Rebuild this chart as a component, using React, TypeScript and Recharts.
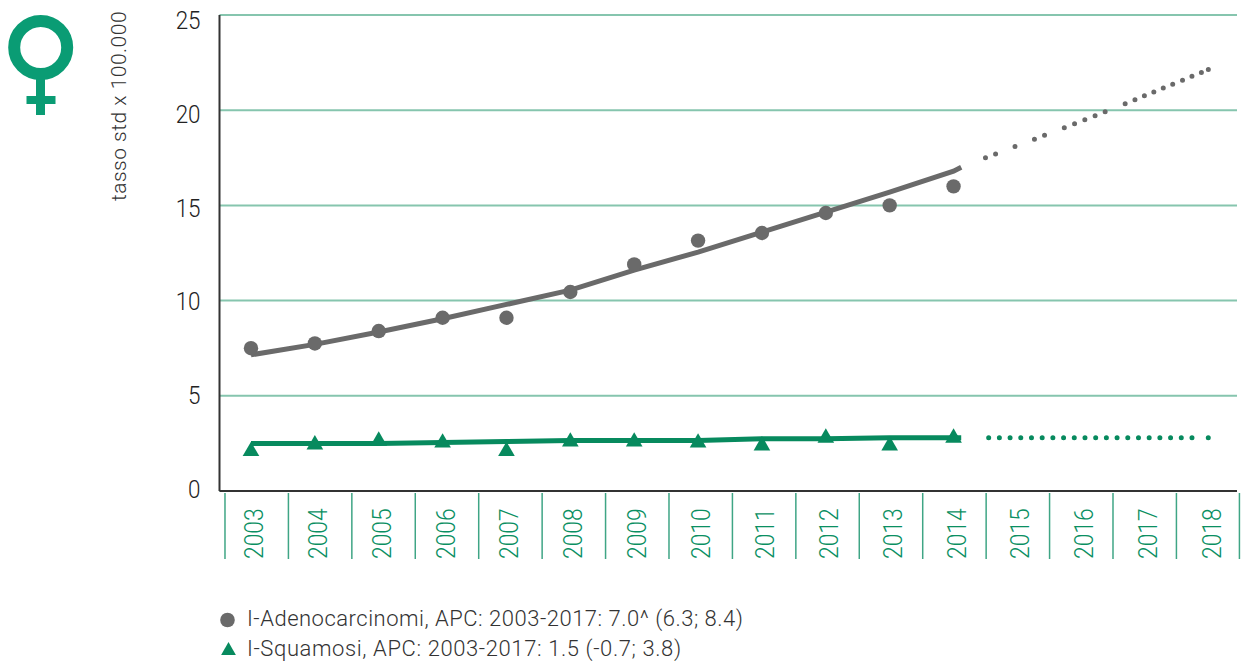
import { CartesianGrid, ComposedChart, Line, Symbols, XAxis, YAxis } from "recharts";

const years = [2003, 2004, 2005, 2006, 2007, 2008, 2009, 2010, 2011, 2012, 2013, 2014, 2015, 2016, 2017, 2018];
const yTicks = [0, 5, 10, 15, 20, 25];
const observedYears = [2003, 2004, 2005, 2006, 2007, 2008, 2009, 2010, 2011, 2012, 2013, 2014];
const adenoObserved = [7.5, 7.75, 8.4, 9.1, 9.1, 10.45, 11.9, 13.15, 13.55, 14.6, 15.0, 16.0];
const squamObserved = [2.2, 2.55, 2.75, 2.65, 2.2, 2.7, 2.7, 2.65, 2.5, 2.9, 2.5, 2.9];
const trendYears = [2003, 2004, 2005, 2006, 2007, 2008, 2009, 2010, 2011, 2012, 2013, 2014, 2014.12];
const adenoTrend = [7.15, 7.7, 8.35, 9.05, 9.8, 10.55, 11.6, 12.55, 13.6, 14.65, 15.7, 16.8, 17.0];
const squamTrend = [2.5, 2.5, 2.5, 2.55, 2.6, 2.65, 2.65, 2.65, 2.75, 2.75, 2.8, 2.8, 2.8];
const adenoForecastYears = [2014.5, 2015.4, 2016.4, 2018];
const adenoForecast = [17.5, 18.65, 19.95, 22.15];
const squamForecastYears = [2014.55, 2018];
const squamForecast = [2.8, 2.8];
const legendLabels = ["I-Adenocarcinomi, APC: 2003-2017: 7.0^ (6.3; 8.4)", "I-Squamosi, APC: 2003-2017: 1.5 (-0.7; 3.8)"];
const yLabel = "tasso std x 100.000";

const GREY = "#6a6a6a";
const GREEN = "#078a5e";

const zip = (xs: number[], vs: number[]) => xs.map((year, i) => ({ year, value: vs[i] }));

// the dotted forecasts have missing dots in the original, so the gaps are spelled out
const adenoDash = "0 10.8 0 20.8 0 20.8 0 10.8 0 21.2 0 11 0 11 0 11 0 10.8 0 21.6 0 10.6 0 10.2 0 10.2 0 10.2 0 10.2 0 10.6 0 10.2 0 10.2 0 7.5 0 60";
const squamDash = "0 10.7 ".repeat(19) + "0 16.3 0 60";

function YearTick({ x, y, payload, index }: any) {
  const sep = x - 26 - index * 0.44;
  const base = x + 12;
  const bottom = y + 60;
  return (
    <g>
      <line x1={sep} x2={sep} y1={y - 6} y2={bottom} stroke="#3fa585" strokeWidth={1.5} />
      {index === years.length - 1 && (
        <line x1={sep + 63} x2={sep + 63} y1={y - 6} y2={bottom} stroke="#3fa585" strokeWidth={1.5} />
      )}
      <text
        transform={`translate(${base} ${bottom}) rotate(-90) scale(0.88 1)`}
        fontFamily="Roboto"
        fontWeight={300}
        fontSize={26}
        fill="#0a8f62"
      >
        {payload.value}
      </text>
    </g>
  );
}

function ValueTick({ x, y, payload }: any) {
  const base = y + 9 + (payload.value / 25) * 7 - 2;
  return (
    <text
      transform={`translate(${x} ${base}) scale(0.88 1)`}
      textAnchor="end"
      fontFamily="Roboto"
      fontWeight={300}
      fontSize={25.5}
      fill="#222"
    >
      {payload.value}
    </text>
  );
}

const circleDot = ({ cx, cy, index }: any) => <circle key={index} cx={cx} cy={cy} r={7.2} fill={GREY} />;
// d3's triangle sits on its centroid, the values were read at the middle of its height
const triangleDot = ({ cx, cy, index }: any) => (
  <Symbols key={index} cx={cx} cy={cy + 2.2} type="triangle" size={120} fill={GREEN} />
);

export default function App() {
  return (
    <div style={{ position: "absolute", left: 0, top: 0, width: 1247, height: 662, background: "#fff" }}>
      <svg width={90} height={125} style={{ position: "absolute", left: 0, top: 0 }}>
        <circle cx={40.7} cy={47.5} r={26.5} fill="none" stroke="#0a9c74" strokeWidth={12} />
        <rect x={36} y={78} width={9} height={37} fill="#0a9c74" />
        <rect x={26.5} y={96} width={29} height={8} fill="#0a9c74" />
      </svg>
      <ComposedChart width={1247} height={662} margin={{ top: 15, right: 10, bottom: 0, left: 0 }}>
        <CartesianGrid horizontal vertical={false} stroke="#86c5ae" strokeWidth={2} />
        <XAxis
          dataKey="year"
          type="number"
          domain={[2002.507, 2018.438]}
          ticks={years}
          interval={0}
          height={171}
          tick={<YearTick />}
          tickLine={false}
          axisLine={{ stroke: "#333", strokeWidth: 2 }}
          allowDataOverflow
        />
        <YAxis
          type="number"
          domain={[0, 25]}
          ticks={yTicks}
          width={219.5}
          tick={<ValueTick />}
          tickLine={false}
          tickSize={0}
          tickMargin={19}
          axisLine={{ stroke: "#333", strokeWidth: 2 }}
          label={{
            value: yLabel,
            angle: -90,
            position: "insideLeft",
            dx: 114,
            dy: -147,
            style: { fontFamily: "Roboto", fontWeight: 300, fontSize: 21, letterSpacing: 0.5, fill: "#333", textAnchor: "middle" },
          }}
        />
        <Line data={zip(trendYears, adenoTrend)} dataKey="value" stroke={GREY} strokeWidth={5} dot={false} type="linear" isAnimationActive={false} />
        <Line data={zip(trendYears, squamTrend)} dataKey="value" stroke={GREEN} strokeWidth={5} dot={false} type="linear" isAnimationActive={false} />
        <Line data={zip(adenoForecastYears, adenoForecast)} dataKey="value" stroke={GREY} strokeWidth={5} strokeLinecap="round" strokeDasharray={adenoDash} dot={false} type="linear" isAnimationActive={false} />
        <Line data={zip(squamForecastYears, squamForecast)} dataKey="value" stroke={GREEN} strokeWidth={5} strokeLinecap="round" strokeDasharray={squamDash} dot={false} type="linear" isAnimationActive={false} />
        <Line data={zip(observedYears, adenoObserved)} dataKey="value" stroke="none" dot={circleDot} isAnimationActive={false} />
        <Line data={zip(observedYears, squamObserved)} dataKey="value" stroke="none" dot={triangleDot} isAnimationActive={false} />
      </ComposedChart>
      <svg width={30} height={50} style={{ position: "absolute", left: 215, top: 605 }}>
        <circle cx={12.5} cy={15} r={7.3} fill={GREY} />
        <polygon points="5,53 22,53 13.5,38" fill={GREEN} transform="translate(0,-1)" />
      </svg>
      {legendLabels.map((label, i) => (
        <div
          key={label}
          style={{
            position: "absolute",
            left: 247,
            top: 605 + i * 30,
            fontFamily: "Roboto",
            fontWeight: 300,
            fontSize: 22,
            letterSpacing: i === 0 ? 0.5 : 0.6,
            lineHeight: "28px",
            color: "#333",
            whiteSpace: "nowrap",
          }}
        >
          {label}
        </div>
      ))}
    </div>
  );
}
